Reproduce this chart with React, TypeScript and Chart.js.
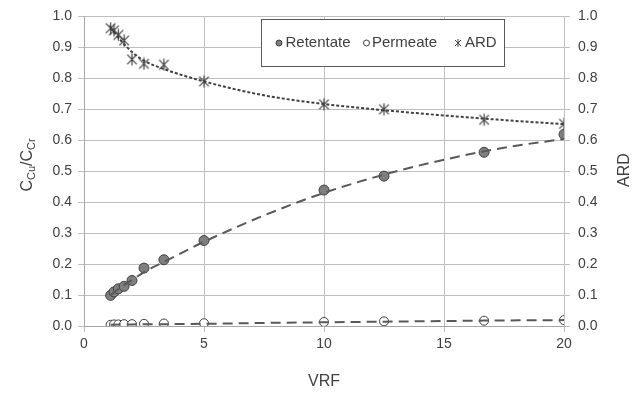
import React, { useEffect, useRef } from 'react';
import { Chart, registerables } from 'chart.js';

Chart.register(...registerables);

// ---- data ----
const vrf = [1.11, 1.25, 1.43, 1.67, 2, 2.5, 3.33, 5, 10, 12.5, 16.67, 20];
const retentate = [0.099, 0.11, 0.12, 0.128, 0.147, 0.187, 0.214, 0.276, 0.439, 0.484, 0.561, 0.619];
const permeate = [0.004, 0.005, 0.005, 0.006, 0.006, 0.007, 0.008, 0.009, 0.013, 0.015, 0.017, 0.019];
const ard = [0.962, 0.955, 0.94, 0.922, 0.861, 0.847, 0.844, 0.79, 0.716, 0.7, 0.666, 0.653];

const trendX = [1.11, 1.5, 2, 2.5, 3.33, 5, 7.5, 10, 12.5, 15, 17.5, 20];
const retentateTrend = [0.1, 0.123, 0.148, 0.174, 0.207, 0.272, 0.357, 0.43, 0.489, 0.537, 0.576, 0.604];
const permeateTrend = [0.004, 0.005, 0.005, 0.006, 0.006, 0.007, 0.01, 0.012, 0.014, 0.016, 0.018, 0.019];
const ardTrend = [0.962, 0.925, 0.885, 0.857, 0.83, 0.79, 0.745, 0.717, 0.697, 0.68, 0.665, 0.652];

const xTicks = [0, 5, 10, 15, 20];
const yTicks = [0, 0.1, 0.2, 0.3, 0.4, 0.5, 0.6, 0.7, 0.8, 0.9, 1.0];

const seriesNames = ['Retentate', 'Permeate', 'ARD'];
const xTitle = 'VRF';
const yRightTitle = 'ARD';

const FONT = "'Liberation Sans', Arial, sans-serif";
const TEXT = '#404040';
const GRID = '#bfbfbf';

const pts = (xs: number[], ys: number[]) => xs.map((x, i) => ({ x, y: ys[i] }));

function makeStar(size: number, color: string): HTMLCanvasElement {
  const c = document.createElement('canvas');
  c.width = size;
  c.height = size;
  const g = c.getContext('2d')!;
  const m = size / 2;
  const r = size / 2 - 0.5;
  g.strokeStyle = color;
  g.lineWidth = 1.2;
  g.beginPath();
  g.moveTo(m, m - r);
  g.lineTo(m, m + r);
  const d = r * 0.8;
  g.moveTo(m - d, m - d);
  g.lineTo(m + d, m + d);
  g.moveTo(m + d, m - d);
  g.lineTo(m - d, m + d);
  g.stroke();
  return c;
}

const titlesPlugin = {
  id: 'customTitles',
  afterDraw(chart: any) {
    const ctx = chart.ctx as CanvasRenderingContext2D;
    const area = chart.chartArea;
    ctx.save();
    ctx.fillStyle = TEXT;
    // x title
    ctx.font = `16px ${FONT}`;
    ctx.textAlign = 'center';
    ctx.textBaseline = 'middle';
    ctx.fillText(xTitle, (area.left + area.right) / 2, 382);

    // right title
    ctx.save();
    ctx.translate(625, 170);
    ctx.rotate(-Math.PI / 2);
    ctx.fillText(yRightTitle, 0, 0);
    ctx.restore();

    // left title  C_Cu / C_Cr
    const parts: [string, boolean][] = [['C', false], ['Cu', true], ['/C', false], ['Cr', true]];
    const big = `16px ${FONT}`;
    const small = `11px ${FONT}`;
    let total = 0;
    const widths = parts.map(([t, sub]) => {
      ctx.font = sub ? small : big;
      const w = ctx.measureText(t).width;
      total += w;
      return w;
    });
    ctx.save();
    ctx.translate(26, 165);
    ctx.rotate(-Math.PI / 2);
    ctx.textAlign = 'left';
    ctx.textBaseline = 'alphabetic';
    let x = -total / 2;
    parts.forEach(([t, sub], i) => {
      ctx.font = sub ? small : big;
      ctx.fillText(t, x, sub ? 9 : 6);
      x += widths[i];
    });
    ctx.restore();

    // legend box
    const bx = 261.5, by = 19.5, bw = 243, bh = 47;
    ctx.fillStyle = '#ffffff';
    ctx.fillRect(bx, by, bw, bh);
    ctx.strokeStyle = '#595959';
    ctx.lineWidth = 1;
    ctx.strokeRect(bx, by, bw, bh);
    const cy = by + bh / 2;
    ctx.font = `15px ${FONT}`;
    ctx.textAlign = 'left';
    ctx.textBaseline = 'middle';
    // item 1
    ctx.beginPath();
    ctx.arc(279, cy, 3, 0, Math.PI * 2);
    ctx.fillStyle = '#7f7f7f';
    ctx.fill();
    ctx.strokeStyle = '#404040';
    ctx.stroke();
    ctx.fillStyle = TEXT;
    ctx.fillText(seriesNames[0], 285.5, cy);
    // item 2
    ctx.beginPath();
    ctx.arc(366.5, cy, 3, 0, Math.PI * 2);
    ctx.fillStyle = '#ffffff';
    ctx.fill();
    ctx.strokeStyle = '#404040';
    ctx.stroke();
    ctx.fillStyle = TEXT;
    ctx.fillText(seriesNames[1], 372, cy);
    // item 3
    ctx.beginPath();
    ctx.moveTo(458, cy - 4);
    ctx.lineTo(458, cy + 4);
    ctx.moveTo(455, cy - 3);
    ctx.lineTo(461, cy + 3);
    ctx.moveTo(461, cy - 3);
    ctx.lineTo(455, cy + 3);
    ctx.strokeStyle = '#404040';
    ctx.stroke();
    ctx.fillText(seriesNames[2], 465, cy);
    ctx.restore();
  },
};

export default function App() {
  const ref = useRef<HTMLCanvasElement | null>(null);

  useEffect(() => {
    if (!ref.current) return;
    const star = makeStar(13, '#404040');
    const tickFont = { family: FONT, size: 14 };
    const chart = new Chart(ref.current, {
      type: 'scatter',
      data: {
        datasets: [
          {
            type: 'line',
            label: 'Retentate trend',
            data: pts(trendX, retentateTrend),
            borderColor: '#595959',
            borderWidth: 2,
            borderDash: [10, 6],
            pointRadius: 0,
            fill: false,
            showLine: true,
            cubicInterpolationMode: 'monotone',
            yAxisID: 'y',
            order: 0,
          } as any,
          {
            type: 'line',
            label: 'Permeate trend',
            data: pts(trendX, permeateTrend),
            borderColor: '#595959',
            borderWidth: 2,
            borderDash: [10, 6],
            pointRadius: 0,
            fill: false,
            showLine: true,
            cubicInterpolationMode: 'monotone',
            yAxisID: 'y',
            order: 0,
          } as any,
          {
            type: 'line',
            label: 'ARD trend',
            data: pts(trendX, ardTrend),
            borderColor: '#404040',
            borderWidth: 2,
            borderDash: [3, 2],
            pointRadius: 0,
            fill: false,
            showLine: true,
            cubicInterpolationMode: 'monotone',
            yAxisID: 'y2',
            order: 0,
          } as any,
          {
            label: seriesNames[0],
            data: pts(vrf, retentate),
            backgroundColor: '#7f7f7f',
            borderColor: '#404040',
            borderWidth: 1,
            pointRadius: 5,
            yAxisID: 'y',
            order: 1,
          },
          {
            label: seriesNames[1],
            data: pts(vrf, permeate),
            backgroundColor: '#ffffff',
            borderColor: '#404040',
            borderWidth: 1,
            pointRadius: 4.5,
            yAxisID: 'y',
            order: 1,
          },
          {
            label: seriesNames[2],
            data: pts(vrf, ard),
            pointStyle: star as any,
            pointRadius: 6,
            yAxisID: 'y2',
            order: 1,
          },
        ],
      },
      options: {
        animation: false,
        responsive: true,
        maintainAspectRatio: false,
        layout: { padding: { top: 14, left: 0, right: 0, bottom: 0 } },
        plugins: { legend: { display: false }, tooltip: { enabled: false } },
        scales: {
          x: {
            type: 'linear',
            min: 0,
            max: 20,
            afterBuildTicks: (s: any) => {
              s.ticks = xTicks.map((v) => ({ value: v }));
            },
            afterFit: (s: any) => {
              s.height = 72;
            },
            ticks: { color: TEXT, font: tickFont, padding: 4, maxRotation: 0 },
            grid: { color: GRID, tickLength: 6, drawTicks: true },
            border: { color: '#a6a6a6' },
          },
          y: {
            type: 'linear',
            position: 'left',
            min: 0,
            max: 1,
            afterBuildTicks: (s: any) => {
              s.ticks = yTicks.map((v) => ({ value: v }));
            },
            afterFit: (s: any) => {
              s.width = 84;
            },
            ticks: { color: TEXT, font: tickFont, padding: 6, callback: (v: any) => Number(v).toFixed(1) },
            grid: { color: GRID, tickLength: 6 },
            border: { color: '#a6a6a6' },
          },
          y2: {
            type: 'linear',
            position: 'right',
            min: 0,
            max: 1,
            afterBuildTicks: (s: any) => {
              s.ticks = yTicks.map((v) => ({ value: v }));
            },
            afterFit: (s: any) => {
              s.width = 76;
            },
            ticks: { color: TEXT, font: tickFont, padding: 8, callback: (v: any) => Number(v).toFixed(1) },
            grid: { color: GRID, tickLength: 6, drawOnChartArea: false },
            border: { color: '#bfbfbf' },
          },
        },
      },
      plugins: [titlesPlugin],
    });
    return () => chart.destroy();
  }, []);

  return (
    <div style={{ position: 'absolute', left: 0, top: 0, width: 640, height: 398, background: '#fff' }}>
      <canvas ref={ref} />
    </div>
  );
}
